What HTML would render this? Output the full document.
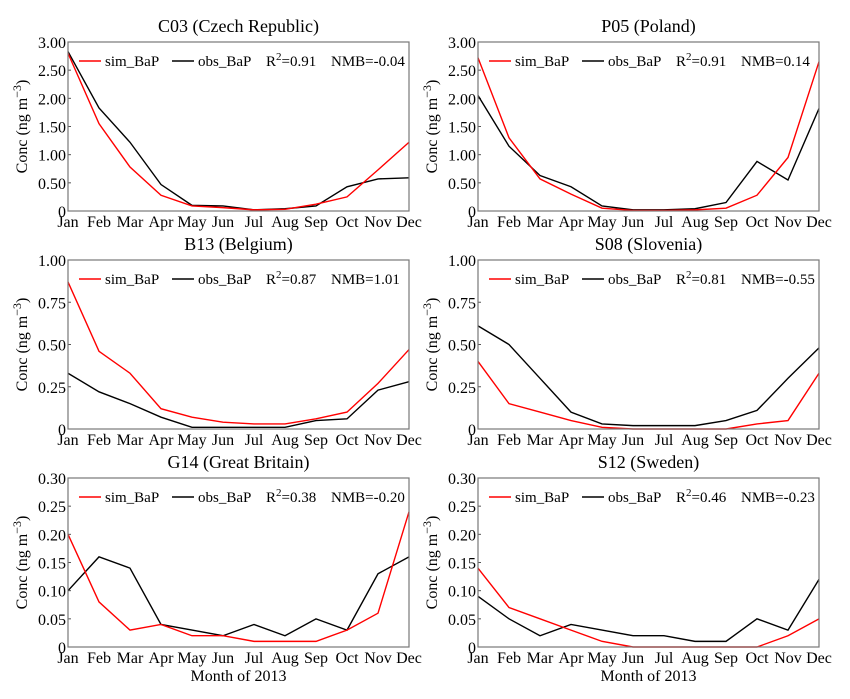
<!DOCTYPE html>
<html><head><meta charset="utf-8"><style>
body{margin:0;background:#fff}
svg{display:block;font-family:"Liberation Serif",serif}
</style></head><body>
<svg id="chart" width="850" height="699" viewBox="0 0 850 699" xmlns="http://www.w3.org/2000/svg"></svg>
<script>
const months=["Jan","Feb","Mar","Apr","May","Jun","Jul","Aug","Sep","Oct","Nov","Dec"];
const titles=["C03 (Czech Republic)","P05 (Poland)","B13 (Belgium)","S08 (Slovenia)","G14 (Great Britain)","S12 (Sweden)"];
const r2Labels=["0.91","0.91","0.87","0.81","0.38","0.46"];
const nmbLabels=["-0.04","0.14","1.01","-0.55","-0.20","-0.23"];
const yMaxes=[3,3,1,1,0.3,0.3];
const yTicksA=["0","0.50","1.00","1.50","2.00","2.50","3.00"];
const yTicksB=["0","0.25","0.50","0.75","1.00"];
const yTicksC=["0","0.05","0.10","0.15","0.20","0.25","0.30"];
const simC03=[2.80,1.55,0.78,0.28,0.09,0.06,0.02,0.03,0.12,0.25,0.73,1.22];
const obsC03=[2.83,1.83,1.22,0.47,0.10,0.09,0.02,0.04,0.09,0.43,0.57,0.59];
const simP05=[2.72,1.30,0.57,0.30,0.05,0.01,0.01,0.02,0.05,0.28,0.95,2.65];
const obsP05=[2.05,1.15,0.63,0.43,0.09,0.02,0.02,0.04,0.15,0.88,0.55,1.82];
const simB13=[0.87,0.46,0.33,0.12,0.07,0.04,0.03,0.03,0.06,0.10,0.27,0.47];
const obsB13=[0.33,0.22,0.15,0.07,0.01,0.01,0.01,0.01,0.05,0.06,0.23,0.28];
const simS08=[0.40,0.15,0.10,0.05,0.01,0.00,0.00,0.00,0.00,0.03,0.05,0.33];
const obsS08=[0.61,0.50,0.30,0.10,0.03,0.02,0.02,0.02,0.05,0.11,0.30,0.48];
const simG14=[0.20,0.08,0.03,0.04,0.02,0.02,0.01,0.01,0.01,0.03,0.06,0.24];
const obsG14=[0.10,0.16,0.14,0.04,0.03,0.02,0.04,0.02,0.05,0.03,0.13,0.16];
const simS12=[0.14,0.07,0.05,0.03,0.01,0,0,0,0,0,0.02,0.05];
const obsS12=[0.09,0.05,0.02,0.04,0.03,0.02,0.02,0.01,0.01,0.05,0.03,0.12];

const sims=[simC03,simP05,simB13,simS08,simG14,simS12];
const obss=[obsC03,obsP05,obsB13,obsS08,obsG14,obsS12];
const ticks=[yTicksA,yTicksA,yTicksB,yTicksB,yTicksC,yTicksC];
const NS="http://www.w3.org/2000/svg";
const svg=document.getElementById('chart');
function mk(tag,attrs,parent,text){const e=document.createElementNS(NS,tag);for(const k in attrs)e.setAttribute(k,attrs[k]);if(text!==undefined)e.textContent=text;(parent||svg).appendChild(e);return e;}
const lefts=[68,478],tops=[42,260,478],W=341,H=169;
for(let p=0;p<6;p++){
  const L=lefts[p%2],T=tops[Math.floor(p/2)];
  const g=mk('g',{});
  
  
  const xs=i=>L+i*W/11, ys=v=>T+H-v/yMaxes[p]*H;
  const t=mk('text',{x:L+W/2,y:T-10,'text-anchor':'middle','font-size':18},g,titles[p]);
  
  ticks[p].forEach(lbl=>{const v=parseFloat(lbl);const y=ys(v);
    const tt=mk('text',{x:L-2,y:y+6,'text-anchor':'end','font-size':16},g,lbl);
    
    mk('line',{x1:L,x2:L+3,y1:y,y2:y,stroke:'#555','stroke-width':1},g);});
  months.forEach((m,i)=>{const tt=mk('text',{x:xs(i),y:T+H+16,'text-anchor':'middle','font-size':16},g,m);
    });
  const yl=mk('text',{transform:`translate(${L-41},${T+H/2}) rotate(-90)`,'text-anchor':'middle','font-size':16},g);
  
  yl.innerHTML='Conc (ng m<tspan dy="-6" font-size="12">−3</tspan><tspan dy="6">)</tspan>';
  const cl=mk('path',{d:'M'+obss[p].map((v,i)=>xs(i)+','+ys(v)).join('L'),fill:'none',stroke:'#000','stroke-width':1.4},g);
  
  const sl=mk('path',{d:'M'+sims[p].map((v,i)=>xs(i)+','+ys(v)).join('L'),fill:'none',stroke:'#f00','stroke-width':1.4},g);
  
  const fr=mk('rect',{x:L,y:T,width:W,height:H,fill:'none',stroke:'#777','stroke-width':1.2},g);
  
  const ly=T+19;
  const lg=mk('g',{},g);
  mk('line',{x1:L+11,x2:L+33,y1:ly,y2:ly,stroke:'#f00','stroke-width':1.4},lg);
  mk('text',{x:L+37,y:ly+5,'font-size':15},lg,'sim_BaP');
  mk('line',{x1:L+104,x2:L+126,y1:ly,y2:ly,stroke:'#000','stroke-width':1.4},lg);
  mk('text',{x:L+130,y:ly+5,'font-size':15},lg,'obs_BaP');
  const r=mk('text',{x:L+198,y:ly+5,'font-size':15},lg);
  r.innerHTML='R<tspan dy="-6" font-size="11">2</tspan><tspan dy="6">='+r2Labels[p]+'</tspan>';
  mk('text',{x:L+263,y:ly+5,'font-size':15},lg,'NMB='+nmbLabels[p]);
}
[68,478].forEach(L=>{const t=mk('text',{x:L+W/2,y:681,'text-anchor':'middle','font-size':16},svg,'Month of 2013');
  });
</script>
</body></html>
